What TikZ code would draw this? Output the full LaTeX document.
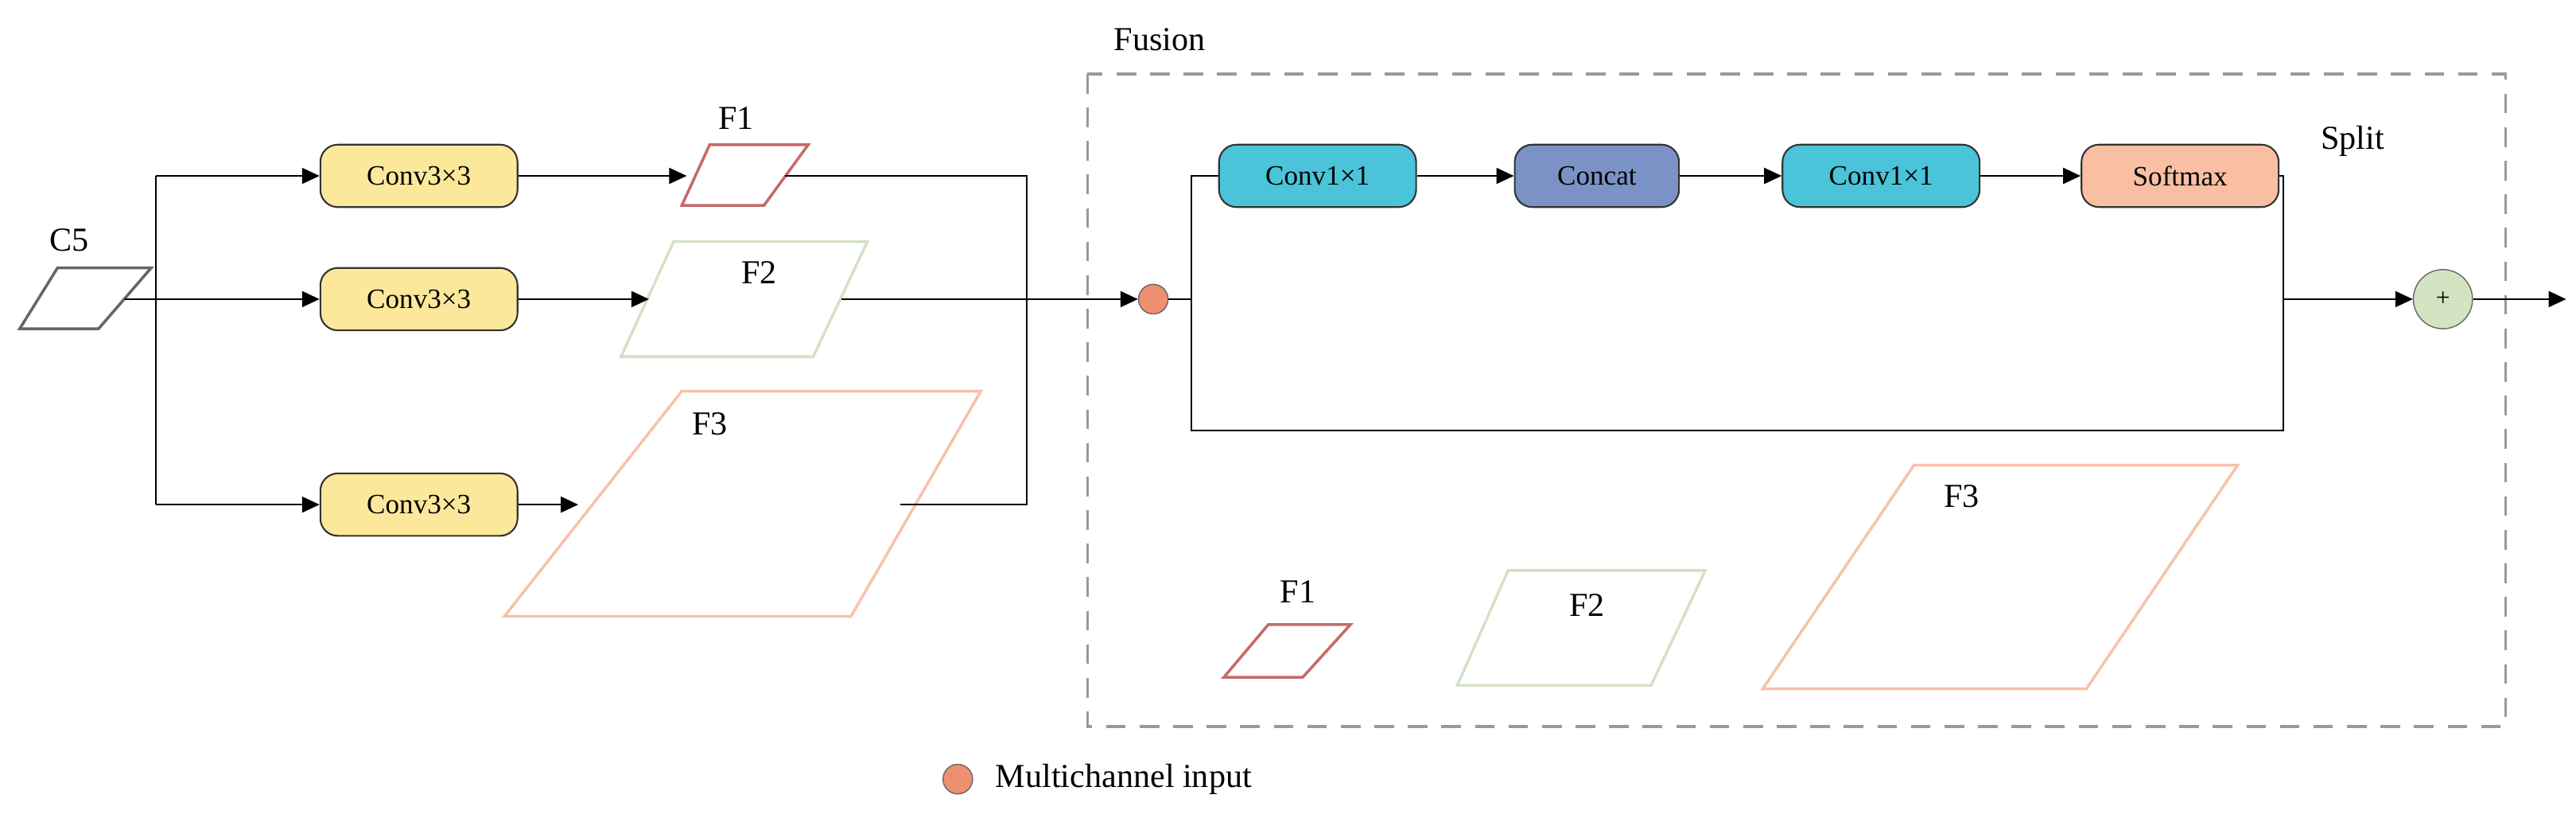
\documentclass[tikz,border=0pt]{standalone}
\usepackage{fontspec}
\setmainfont{Liberation Serif}
\usetikzlibrary{arrows.meta}
\definecolor{cyel}{HTML}{FBE89A}
\definecolor{ccyan}{HTML}{4BC3D9}
\definecolor{cconc}{HTML}{7A92C6}
\definecolor{csoft}{HTML}{F9BFA2}
\definecolor{fone}{HTML}{C66A6A}
\definecolor{ftwo}{HTML}{D3E2C6}
\definecolor{fthree}{HTML}{F7C2AA}
\definecolor{corange}{HTML}{EE9070}
\definecolor{cplus}{HTML}{D3E4C3}
\begin{document}
\begin{tikzpicture}[x=0.2066mm,y=-0.2066mm,
  box/.style={draw=black!80,line width=0.6pt,rounded corners=2.2mm,minimum width=120*0.2066mm,minimum height=38*0.2066mm,inner sep=0pt,font=\fontsize{10}{12}\selectfont},
  ln/.style={line width=0.6pt},
  arr/.style={ln,-{Triangle[length=2.2mm,width=2mm]}},
  lab/.style={font=\fontsize{12}{14}\selectfont}]
\useasboundingbox (0,0) rectangle (1568,500);
% C5
\draw[black!60,line width=1pt] (12,200)--(60,200)--(92,163)--(35,163)--cycle;
\node[lab] (c5) at (42,146) {C5};
\coordinate (c5o) at (76,182);
\coordinate (s1) at (95,107);
\coordinate (s3) at (95,307);
% conv boxes
\node[box,fill=cyel] (k1) at (255,107) {Conv3×3};
\node[box,fill=cyel] (k2) at (255,182) {Conv3×3};
\node[box,fill=cyel] (k3) at (255,307) {Conv3×3};
% F1 F2 F3 left
\draw[fone,line width=1pt] (415,125)--(465,125)--(492,88)--(432,88)--cycle;
\node[lab] (f1l) at (448,72) {F1};
\draw[ftwo,line width=1pt] (378,217)--(495,217)--(528,147)--(410,147)--cycle;
\node[lab] (f2l) at (462,166) {F2};
\draw[fthree,line width=1pt] (307,375)--(518,375)--(597,238)--(415,238)--cycle;
\node[lab] (f3l) at (432,258) {F3};
\coordinate (f1i) at (418,107); \coordinate (f1o) at (478,107);
\coordinate (f2i) at (395,182); \coordinate (f2o) at (512,182);
\coordinate (f3i) at (352,307); \coordinate (f3o) at (548,307);
\coordinate (r1) at (625,107); \coordinate (r3) at (625,307);
\draw[ln] (c5o)--(95,182);
\draw[ln] (s1)--(s3);
\draw[arr] (s1)--(k1.west);
\draw[arr] (c5o)--(k2.west);
\draw[arr] (s3)--(k3.west);
\draw[arr] (k1)--(f1i);
\draw[arr] (k2)--(f2i);
\draw[arr] (k3)--(f3i);
\draw[ln] (f1o)--(r1)--(r3)--(f3o);
% fusion
\draw[black!40,dash pattern=on 7pt off 5pt,line width=0.9pt] (662,45) rectangle (1525,442);
\node[lab,anchor=west] (fus) at (672,24) {Fusion};
\node[circle,draw=black!60,fill=corange,minimum size=18*0.2066mm,inner sep=0pt] (mi) at (702,182) {};
\draw[arr] (f2o)--(mi);
\node[box,fill=ccyan] (b1) at (802,107) {Conv1×1};
\node[box,fill=cconc,minimum width=100*0.2066mm] (b2) at (972,107) {Concat};
\node[box,fill=ccyan] (b3) at (1145,107) {Conv1×1};
\node[box,fill=csoft] (b4) at (1327,107) {Softmax};
\node[lab] (spl) at (1432,86) {Split};
\coordinate (la) at (725,107); \coordinate (lb) at (725,262);
\coordinate (ra) at (1390,107); \coordinate (rb) at (1390,262);
\coordinate (rm) at (1390,182);
\draw[ln] (mi)--(725,182);
\draw[ln] (b1.west)--(la)--(lb)--(rb)--(ra)--(b4.east);
\draw[arr] (b1)--(b2); \draw[arr] (b2)--(b3); \draw[arr] (b3)--(b4);
\node[circle,draw=black!60,fill=cplus,minimum size=36*0.2066mm,inner sep=0pt,font=\fontsize{9}{10}\selectfont] (pl) at (1487,182) {+};
\coordinate (out) at (1562,182);
\draw[arr] (rm)--(pl);
\draw[arr] (pl)--(out);
% bottom F shapes
\draw[fone,line width=1pt] (745,412)--(793,412)--(822,380)--(772,380)--cycle;
\node[lab] (bf1) at (790,360) {F1};
\draw[ftwo,line width=1pt] (887,417)--(1005,417)--(1038,347)--(918,347)--cycle;
\node[lab] (bf2) at (966,368) {F2};
\draw[fthree,line width=1pt] (1073,419)--(1270,419)--(1362,283)--(1165,283)--cycle;
\node[lab] (bf3) at (1194,302) {F3};
% legend
\node[circle,draw=black!60,fill=corange,minimum size=18*0.2066mm,inner sep=0pt] (lg) at (583,474) {};
\node[lab,anchor=west] (lgt) at (600,474) {Multichannel input};
\end{tikzpicture}
\end{document}
